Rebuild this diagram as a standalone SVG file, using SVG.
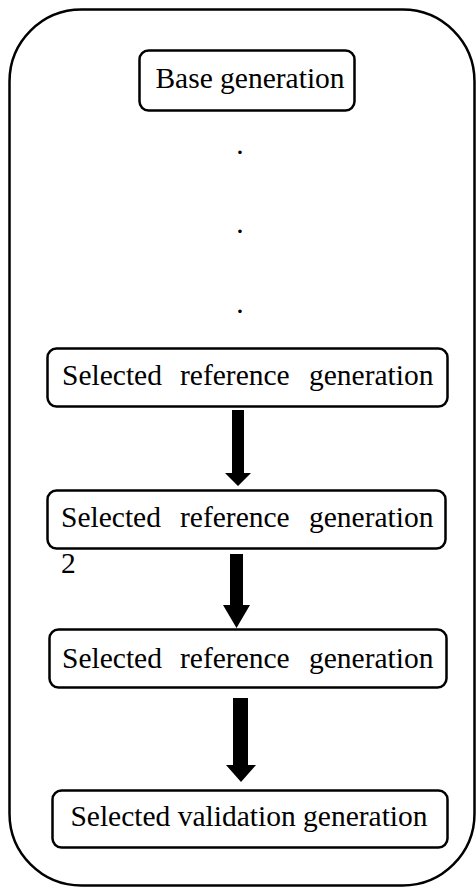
<svg xmlns="http://www.w3.org/2000/svg" width="476" height="888" viewBox="0 0 476 888">
<style>
.frame{fill:none;stroke:#000;stroke-width:2.5}
.box{fill:#fff;stroke:#000;stroke-width:2.5}
.t{font-family:"Liberation Serif","Times New Roman",serif;font-size:29.5px;fill:#000}
.arr{fill:#000;stroke:none}
</style>
<rect class="frame" x="9.5" y="9.5" width="465" height="876" rx="72" ry="72"/>
<g id="base">
<rect class="box" x="139.5" y="50.5" width="215" height="60" rx="9"/>
<text class="t" x="250" y="88" text-anchor="middle">Base generation</text>
</g>
<g id="dots">
<text class="t" x="240" y="154" text-anchor="middle">.</text>
<text class="t" x="240" y="233" text-anchor="middle">.</text>
<text class="t" x="240" y="313" text-anchor="middle">.</text>
</g>
<g id="ref1">
<rect class="box" x="47.5" y="348.5" width="400" height="58" rx="9"/>
<text class="t" y="385"><tspan x="62">Selected</tspan><tspan x="180">reference</tspan><tspan x="309">generation</tspan></text>
</g>
<g id="ref2">
<rect class="box" x="47.5" y="490.5" width="398" height="58" rx="9"/>
<text class="t" y="527"><tspan x="61">Selected</tspan><tspan x="180">reference</tspan><tspan x="309">generation</tspan></text>
<text class="t" x="61" y="573">2</text>
</g>
<g id="ref3">
<rect class="box" x="49.5" y="629.5" width="397" height="58" rx="9"/>
<text class="t" y="668"><tspan x="62">Selected</tspan><tspan x="180">reference</tspan><tspan x="309">generation</tspan></text>
</g>
<g id="val">
<rect class="box" x="52.5" y="790.5" width="395" height="57" rx="9"/>
<text class="t" x="249" y="826" text-anchor="middle">Selected validation generation</text>
</g>
<g id="connectors">
<polygon class="arr" points="232,410 244,410 244,473 251,473 238,486 225,473 232,473"/>
<polygon class="arr" points="230,554 243,554 243,605 250,605 236.5,628 223,605 230,605"/>
<polygon class="arr" points="233,698 248,698 248,765 256,765 241,782 226,765 233,765"/>
</g>
</svg>
